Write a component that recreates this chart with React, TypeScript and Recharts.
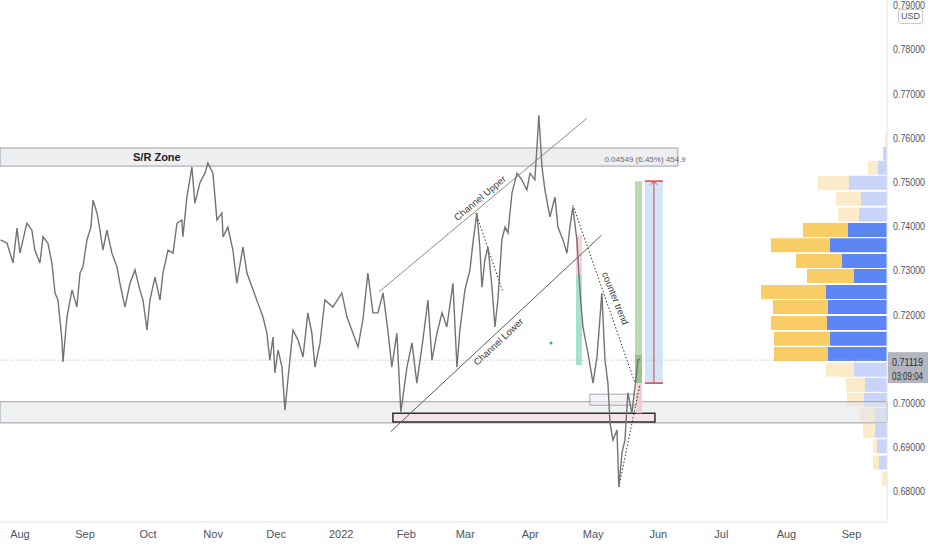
import { ComposedChart, Line, XAxis, YAxis, ReferenceArea, ReferenceLine, ReferenceDot, BarChart, Bar, Cell } from 'recharts';

// day index counted from 1 Aug 2021, price AUD/USD
const days = [
  -9.3, -6.2, -3.3, -1.4, 0, 3.3, 5.7, 7.1, 9.5, 11.0,
  13.3, 15.2, 16.7, 18.1, 20.0, 20.5, 22.4, 24.8, 27.1, 28.6,
  30.0, 31.9, 33.8, 34.8, 36.7, 38.1, 39.5, 41.4, 43.8, 46.2,
  47.6, 50.0, 52.4, 54.8, 57.1, 58.6, 60.5, 61.9, 64.3, 66.7,
  68.1, 70.5, 72.9, 74.8, 77.1, 77.6, 79.5, 81.9, 83.3, 85.7,
  88.1, 89.5, 91.9, 93.8, 96.2, 96.7, 99.0, 101.4, 103.3, 106.2,
  108.1, 111.0, 113.3, 115.7, 117.6, 119.0, 120.5, 121.4, 122.9, 124.8,
  126.2, 127.6, 130.0, 132.4, 134.8, 137.1, 139.0, 140.5, 142.9, 145.2,
  149.0, 153.3, 155.7, 158.6, 161.0, 163.3, 165.7, 168.1, 170.5, 172.9,
  175.2, 177.1, 179.5, 181.4, 184.3, 186.7, 189.0, 191.9, 194.3, 196.2,
  198.6, 201.0, 203.3, 206.2, 208.1, 209.5, 211.9, 214.3, 215.7, 217.6,
  219.0, 220.0, 221.4, 222.9, 224.8, 226.2, 227.6, 229.5, 231.0, 232.4,
  234.3, 236.7, 239.0, 241.4, 242.9, 245.2, 246.2, 247.1, 248.6, 250.0,
  252.4, 254.8, 256.2, 258.6, 260.5, 261.9, 263.3, 265.2, 266.7, 268.1,
  270.5, 272.9, 274.8, 277.1, 278.6, 280.0, 281.0, 282.4, 284.3, 285.2,
  286.7, 288.1, 289.5, 291.4, 292.9, 294.3, 295.2,
];

const closes = [
  0.7369, 0.7362, 0.7317, 0.7396, 0.7339, 0.7407, 0.7391, 0.7346, 0.7317, 0.7376,
  0.7362, 0.7317, 0.7249, 0.7233, 0.7143, 0.7093, 0.7195, 0.7256, 0.7217, 0.7294,
  0.7308, 0.7369, 0.7398, 0.7459, 0.7430, 0.7391, 0.7346, 0.7391, 0.7339, 0.7308,
  0.7271, 0.7217, 0.7271, 0.7301, 0.7256, 0.7233, 0.7165, 0.7233, 0.7285, 0.7233,
  0.7294, 0.7346, 0.7339, 0.7407, 0.7414, 0.7376, 0.7466, 0.7534, 0.7452, 0.7498,
  0.7520, 0.7543, 0.7520, 0.7414, 0.7430, 0.7376, 0.7398, 0.7346, 0.7271, 0.7353,
  0.7294, 0.7256, 0.7226, 0.7195, 0.7158, 0.7097, 0.7149, 0.7068, 0.7120, 0.7081,
  0.6984, 0.7052, 0.7165, 0.7143, 0.7104, 0.7204, 0.7158, 0.7081, 0.7136, 0.7233,
  0.7217, 0.7249, 0.7195, 0.7158, 0.7127, 0.7188, 0.7294, 0.7204, 0.7204, 0.7249,
  0.7165, 0.7081, 0.7158, 0.6980, 0.7081, 0.7136, 0.7045, 0.7143, 0.7233, 0.7097,
  0.7158, 0.7204, 0.7172, 0.7271, 0.7081, 0.7165, 0.7256, 0.7301, 0.7362, 0.7430,
  0.7353, 0.7262, 0.7324, 0.7353, 0.7262, 0.7172, 0.7233, 0.7369, 0.7398, 0.7385,
  0.7475, 0.7520, 0.7505, 0.7482, 0.7520, 0.7505, 0.7579, 0.7651, 0.7534, 0.7482,
  0.7421, 0.7466, 0.7398, 0.7369, 0.7339, 0.7398, 0.7443, 0.7369, 0.7251, 0.7172,
  0.7113, 0.7045, 0.7104, 0.7249, 0.7097, 0.7045, 0.6955, 0.6916, 0.6939, 0.6810,
  0.6887, 0.6916, 0.7023, 0.6977, 0.7036, 0.7097, 0.7100,
];

const monthTicks = [0, 31, 61, 92, 122, 153, 184, 212, 243, 273, 304, 334, 365, 396];
const monthLabels = ['Aug', 'Sep', 'Oct', 'Nov', 'Dec', '2022', 'Feb', 'Mar', 'Apr', 'May', 'Jun', 'Jul', 'Aug', 'Sep'];
const priceTicks = [0.68, 0.69, 0.7, 0.72, 0.73, 0.74, 0.75, 0.76, 0.77, 0.78, 0.79];

// volume profile rows
const profileLevels = [
  0.7596, 0.7564, 0.7532, 0.7498, 0.7462, 0.7426, 0.7391, 0.7357, 0.7321, 0.7287, 0.7251, 0.7217,
  0.7181, 0.7145, 0.7111, 0.7075, 0.7041, 0.7007, 0.6973, 0.6937, 0.6902, 0.6865, 0.6829,
];
const profileUp = [0, 4, 9, 38, 26, 28, 39, 57, 45, 33, 61, 59, 60, 57, 59, 33, 22, 23, 12, 12, 10, 8, 0];
const profileDown = [2, 0, 10, 31, 25, 21, 45, 59, 46, 47, 65, 55, 56, 56, 54, 28, 19, 17, 15, 12, 4, 6, 5];
const valueAreaHigh = 0.7391;
const valueAreaLow = 0.7111;

const lastPrice = '0.71119';
const countdown = '03:09:04';
const lastLevel = 0.7097;

const X_MIN = -9.5;
const X_MAX = 412.9;
const Y_MIN = 0.67308;
const Y_MAX = 0.79118;

const FONT = "'Liberation Sans', Arial, sans-serif";

const priceData = days.map((d, i) => ({ day: d, close: closes[i] }));
const profileData = profileLevels.map((p, i) => ({ price: p, up: profileUp[i], down: profileDown[i] }));

const inValueArea = (p: number) => p <= valueAreaHigh && p >= valueAreaLow;

const note = (text: string, angle: number, size = 10, extra: any = {}) => (p: any) => (
  <text
    x={p.cx}
    y={p.cy}
    transform={`rotate(${angle} ${p.cx} ${p.cy})`}
    textAnchor="middle"
    dominantBaseline="central"
    fontSize={size}
    fill="#3a3a3a"
    fontFamily={FONT}
    {...extra}
  >
    {text}
  </text>
);

const PriceTick = (props: any) => (
  <text
    x={props.x}
    y={props.y}
    dy="0.355em"
    fontSize={11}
    fill="#50535e"
    fontFamily={FONT}
    textLength={32}
    lengthAdjust="spacingAndGlyphs"
  >
    {Number(props.payload.value).toFixed(5)}
  </text>
);

const priceTag = (p: any) => (
  <g>
    <rect x={p.cx + 1} y={p.cy - 8} width={40} height={31} fill="#b2b5bd" />
    <text x={p.cx + 5} y={p.cy + 2} fontSize={10.5} fill="#2a2e39" fontFamily={FONT} dominantBaseline="central" textLength={31} lengthAdjust="spacingAndGlyphs">
      {lastPrice}
    </text>
    <text x={p.cx + 5} y={p.cy + 16} fontSize={10.5} fill="#2a2e39" fontFamily={FONT} dominantBaseline="central" textLength={31} lengthAdjust="spacingAndGlyphs">
      {countdown}
    </text>
  </g>
);

function VolumeProfile() {
  return (
    <BarChart
      width={147}
      height={550}
      layout="vertical"
      data={profileData}
      margin={{ top: 0, right: 0, bottom: 28, left: 0 }}
      barGap={0}
    >
      <XAxis type="number" hide reversed domain={[0, 147]} allowDataOverflow />
      <YAxis type="number" dataKey="price" hide reversed domain={[Y_MIN, Y_MAX]} allowDataOverflow />
      <Bar dataKey="up" stackId="v" barSize={14} isAnimationActive={false}>
        {profileData.map((r, i) => (
          <Cell key={i} fill={inValueArea(r.price) ? '#5d86f5' : '#c9d5f8'} />
        ))}
      </Bar>
      <Bar dataKey="down" stackId="v" barSize={14} isAnimationActive={false}>
        {profileData.map((r, i) => (
          <Cell key={i} fill={inValueArea(r.price) ? '#f8cd66' : '#fcebc8'} />
        ))}
      </Bar>
    </BarChart>
  );
}

export default function App() {
  return (
    <div style={{ position: 'absolute', left: 0, top: 0, width: 932, height: 550, background: '#fff', fontFamily: FONT }}>
      <div style={{ position: 'absolute', left: 740, top: 0 }}>
        <VolumeProfile />
      </div>
      <div style={{ position: 'absolute', left: 0, top: 0 }}>
        <ComposedChart width={932} height={550} data={priceData} margin={{ top: 0, right: 0, bottom: 0, left: 0 }}>
          <XAxis
            dataKey="day"
            type="number"
            domain={[X_MIN, X_MAX]}
            ticks={monthTicks}
            tickFormatter={(v: number) => monthLabels[monthTicks.indexOf(v)] ?? ''}
            allowDataOverflow
            height={28}
            axisLine={{ stroke: '#f4d8dc' }}
            tickLine={false}
            tick={{ fill: '#50535e', fontSize: 11, fontFamily: FONT }}
            interval={0}
          />
          <YAxis
            orientation="right"
            type="number"
            domain={[Y_MIN, Y_MAX]}
            ticks={priceTicks}
            allowDataOverflow
            width={45}
            axisLine={{ stroke: '#e2e4e9' }}
            tickLine={false}
            tickSize={2}
            tickMargin={4}
            tick={PriceTick}
            interval={0}
          />

          {/* support / resistance zones */}
          <ReferenceArea x1={X_MIN} x2={313.3} y1={0.7536} y2={0.7577} fill="#e9ebee" fillOpacity={0.8} stroke="#9da1a8" strokeWidth={1} />
          <ReferenceArea x1={X_MIN} x2={X_MAX} y1={0.6955} y2={0.7003} fill="#e4e6ea" fillOpacity={0.6} stroke="#9da1a8" strokeWidth={1} />
          <ReferenceArea x1={177.6} x2={302.4} y1={0.6957} y2={0.6977} fill="#f6e3e8" fillOpacity={0.9} stroke="#2f2f2f" strokeWidth={1.5} />
          <ReferenceArea x1={271.4} x2={293.8} y1={0.6995} y2={0.702} fill="#eceef1" fillOpacity={0.6} stroke="#a3a7ae" strokeWidth={1} />

          {/* position tools */}
          <ReferenceArea x1={264.8} x2={267.6} y1={0.729} y2={0.738} fill="#f7c6cb" fillOpacity={0.8} />
          <ReferenceArea x1={264.8} x2={267.6} y1={0.7086} y2={0.729} fill="#8fd8c4" fillOpacity={0.8} />
          <ReferenceArea x1={292.9} x2={296.2} y1={0.7109} y2={0.7502} fill="#b5d4a6" fillOpacity={0.9} />
          <ReferenceArea x1={292.9} x2={296.2} y1={0.7045} y2={0.7109} fill="#8cbb7c" fillOpacity={0.9} />
          <ReferenceArea x1={293.6} x2={296.2} y1={0.6977} y2={0.7045} fill="#f6c9c9" fillOpacity={0.9} />
          <ReferenceArea x1={297.6} x2={306.2} y1={0.7045} y2={0.7502} fill="#cfe2f8" fillOpacity={0.9} />
          <ReferenceLine segment={[{ x: 301.9, y: 0.7045 }, { x: 301.9, y: 0.7502 }]} stroke="#e0423f" strokeWidth={1} />
          <ReferenceLine segment={[{ x: 297.6, y: 0.7045 }, { x: 306.2, y: 0.7045 }]} stroke="#e0423f" strokeWidth={1.5} />
          <ReferenceLine segment={[{ x: 297.6, y: 0.7502 }, { x: 306.2, y: 0.7502 }]} stroke="#e0423f" strokeWidth={1.5} />
          <ReferenceLine segment={[{ x: 300.4, y: 0.7494 }, { x: 301.9, y: 0.7502 }]} stroke="#e0423f" strokeWidth={1} />
          <ReferenceLine segment={[{ x: 301.9, y: 0.7502 }, { x: 303.4, y: 0.7494 }]} stroke="#e0423f" strokeWidth={1} />

          {/* last price dotted line */}
          <ReferenceLine y={lastLevel} stroke="#b7bac0" strokeDasharray="1 2" />

          {/* channel and trend lines */}
          <ReferenceLine segment={[{ x: 171.1, y: 0.7252 }, { x: 269.9, y: 0.7644 }]} stroke="#8a8a8a" strokeWidth={1} />
          <ReferenceLine segment={[{ x: 176.5, y: 0.6935 }, { x: 277.0, y: 0.738 }]} stroke="#5a5a5a" strokeWidth={1} />
          <ReferenceLine segment={[{ x: 217.1, y: 0.743 }, { x: 230.0, y: 0.7251 }]} stroke="#333" strokeDasharray="1.5 2" />
          <ReferenceLine segment={[{ x: 263.3, y: 0.7448 }, { x: 292.9, y: 0.7045 }]} stroke="#333" strokeDasharray="1.5 2" />
          <ReferenceLine segment={[{ x: 285.2, y: 0.681 }, { x: 295.2, y: 0.7041 }]} stroke="#333" strokeDasharray="1.5 2" />

          <Line dataKey="close" type="linear" stroke="#737373" strokeWidth={1.4} dot={false} activeDot={false} isAnimationActive={false} />

          <ReferenceDot x={252.9} y={0.7136} r={1.5} fill="#22c55e" stroke="none" />

          {/* annotations */}
          <ReferenceDot x={65.2} y={0.7557} r={1} shape={note('S/R Zone', 0, 11, { fontWeight: 'bold', fill: '#222' })} />
          <ReferenceDot x={317.1} y={0.755} r={1} shape={note('0.04549 (6.45%) 454.9', 0, 8, { textAnchor: 'end', fill: '#6b6b6b' })} />
          <ReferenceDot x={219.0} y={0.7464} r={1} shape={note('Channel Upper', -40, 9.5)} />
          <ReferenceDot x={227.8} y={0.7139} r={1} shape={note('Channel Lower', -43, 9.5)} />
          <ReferenceDot x={283.6} y={0.7237} r={1} shape={note('counter trend', 68, 9.5)} />

          <ReferenceDot x={X_MAX} y={lastLevel} r={1} shape={priceTag} />
        </ComposedChart>
      </div>
      <div
        style={{
          position: 'absolute',
          left: 898,
          top: 9,
          padding: '1px 2px',
          border: '1px solid #c8cbd2',
          borderRadius: 3,
          background: '#fff',
          fontSize: 9,
          color: '#50535e',
          lineHeight: '11px',
        }}
      >
        USD
      </div>
    </div>
  );
}
